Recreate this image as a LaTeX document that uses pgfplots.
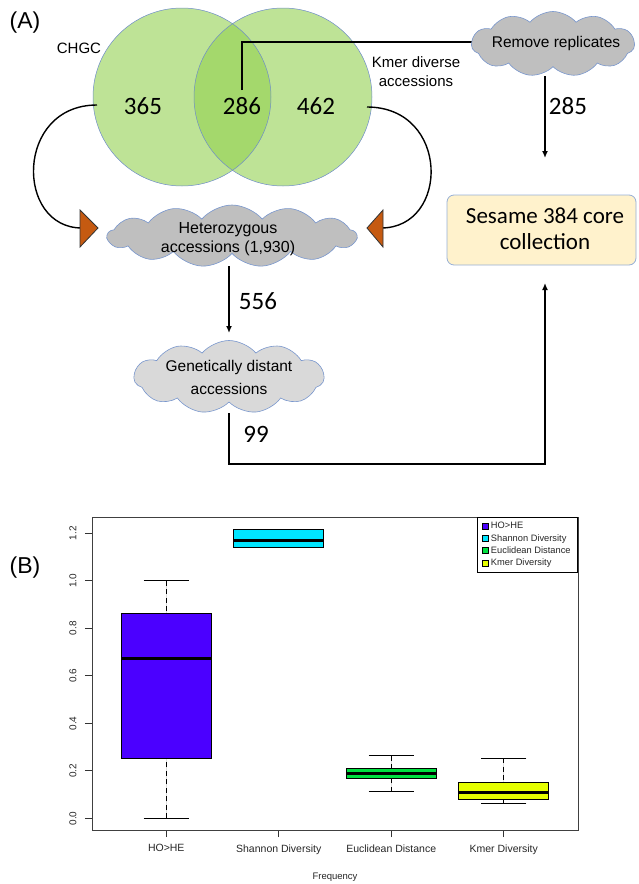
\documentclass[border=0pt]{standalone}
\usepackage{pgfplots}
\pgfplotsset{compat=1.18}
\usepgfplotslibrary{statistics}
\usetikzlibrary{shapes.symbols,arrows.meta}
\usepackage{fontspec}
\setmainfont{Liberation Sans}
\newfontfamily\calib{Carlito}
\definecolor{venn}{RGB}{146,208,80}
\definecolor{vennline}{RGB}{110,140,200}
\definecolor{cloudA}{RGB}{191,191,191}
\definecolor{cloudB}{RGB}{217,217,217}
\definecolor{cloudline}{RGB}{120,150,205}
\definecolor{sesame}{RGB}{255,242,204}
\definecolor{sesameline}{RGB}{150,175,215}
\definecolor{tri}{RGB}{197,90,17}
\definecolor{hohe}{RGB}{75,0,255}
\definecolor{shannon}{RGB}{0,229,255}
\definecolor{euclid}{RGB}{0,224,64}
\definecolor{kmer}{RGB}{229,255,0}
\newcommand\fs[1]{\fontsize{#1}{#1}\selectfont}
\newcommand\fsb[2]{\fontsize{#1}{#2}\selectfont}
\begin{document}
\begin{tikzpicture}
\path[use as bounding box] (0pt,0pt) rectangle (639pt,-884pt);
\begin{scope}[x=1pt,y=-1pt]
 % panel labels
 \node at (25,23) {\fs{23}(A)};
 \node at (25,568) {\fs{23}(B)};
 % venn
 \fill[venn, fill opacity=0.6] (182,97) circle[radius=89pt];
 \fill[venn, fill opacity=0.6] (283,97) circle[radius=89pt];
 \draw[vennline, line width=0.5pt] (182,97) circle[radius=89pt];
 \draw[vennline, line width=0.5pt] (283,97) circle[radius=89pt];
 \node at (79,48) {\fs{15}CHGC};
 \node[align=center, font=\fsb{15}{19}] at (416,72) {Kmer diverse\\accessions};
 \node at (143,106) {\calib\fs{25}365};
 \node at (242,106) {\calib\fs{25}286};
 \node at (316,106) {\calib\fs{25}462};
 % line from 286 to Remove replicates
 \draw[line width=1.4pt] (242,90) -- (242,42) -- (475,42);
 % Remove replicates cloud
 \node[cloud, cloud puffs=11, cloud puff arc=100, cloud ignores aspect, minimum width=163pt, minimum height=65pt, draw=cloudline, fill=cloudA, line width=0.6pt] at (553,44) {};
 \node at (556,43) {\fs{15.5}Remove replicates};
 % 285 arrow
 \draw[line width=1.4pt, -{Latex[length=7pt,width=6pt]}] (545,76) -- (545,158);
 \node at (568,106) {\calib\fs{25}285};
 % Sesame box
 \draw[sesameline, fill=sesame, line width=0.8pt, rounded corners=7pt] (447,195) rectangle (636,265);
 \node[align=center, font=\calib\fsb{23}{26}] at (545,229) {Sesame 384 core\\collection};
 % curved arrows
 \draw[line width=1.4pt] (97,105) .. controls (15,105) and (15,228) .. (82,228);
 \draw[line width=1.4pt] (367,107) .. controls (450,107) and (450,228) .. (381,228);
 \draw[black!80, fill=tri, line width=0.8pt] (80,210) -- (80,247) -- (98,228) -- cycle;
 \draw[black!80, fill=tri, line width=0.8pt] (383,210) -- (383,247) -- (367,228) -- cycle;
 % Heterozygous cloud
 \node[cloud, cloud puffs=13, cloud puff arc=100, cloud ignores aspect, minimum width=249pt, minimum height=62pt, draw=cloudline, fill=cloudA, line width=0.6pt] at (232,236) {};
 \node[align=center, font=\fsb{16}{18.5}] at (228,239) {Heterozygous\\accessions (1,930)};
 % 556 arrow
 \draw[line width=1.4pt, -{Latex[length=7pt,width=6pt]}] (229,266) -- (229,333);
 \node at (258,301) {\calib\fs{25}556};
 % Genetically distant cloud
 \node[cloud, cloud puffs=11, cloud puff arc=100, cloud ignores aspect, minimum width=190pt, minimum height=73pt, draw=cloudline, fill=cloudB, line width=0.6pt] at (229,377) {};
 \node[align=center, font=\fsb{15.5}{23}] at (229,377) {Genetically distant\\accessions};
 % 99 route
 \draw[line width=1.4pt, -{Latex[length=7pt,width=6pt]}] (229,413) -- (229,464) -- (545,464) -- (545,283);
 \node at (256,434) {\calib\fs{25}99};
\end{scope}
\begin{axis}[
  at={(92pt,-830pt)}, anchor=south west,
  scale only axis, width=486pt, height=313pt,
  xmin=0.34, xmax=4.66, ymin=-0.0488, ymax=1.2688,
  xtick={1,2,3,4},
  xticklabels={HO>HE, Shannon Diversity, Euclidean Distance, Kmer Diversity},
  ytick={0,0.2,0.4,0.6,0.8,1.0,1.2},
  /pgf/number format/assume math mode=true,
  yticklabel style={/pgf/number format/fixed, /pgf/number format/precision=1, /pgf/number format/fixed zerofill, rotate=90, anchor=south, font=\fs{10}, text=black!85},
  yticklabel shift=5pt,
  xticklabel style={font=\fs{10.5}, text=black!85},
  xticklabel shift=4pt,
  tick align=outside, tick pos=left, major tick length=7pt,
  tick style={black!80, line width=0.9pt},
  axis line style={black!75, line width=0.9pt},
  xlabel={Frequency},
  xlabel style={font=\fs{9.5}, text=black!85, at={(axis description cs:0.5,0)}, anchor=center, yshift=-47pt},
  boxplot/draw direction=y,
  boxplot/box extend=0.8,
  boxplot/draw/lower whisker/.code={
    \draw[black, dash pattern=on 5pt off 3.5pt, line width=0.9pt]
      (boxplot box cs:\pgfplotsboxplotvalue{lower whisker},0.5) -- (boxplot box cs:\pgfplotsboxplotvalue{lower quartile},0.5);
    \draw[black, solid, line width=0.9pt]
      (boxplot box cs:\pgfplotsboxplotvalue{lower whisker},0.25) -- (boxplot box cs:\pgfplotsboxplotvalue{lower whisker},0.75);
  },
  boxplot/draw/upper whisker/.code={
    \draw[black, dash pattern=on 5pt off 3.5pt, line width=0.9pt]
      (boxplot box cs:\pgfplotsboxplotvalue{upper whisker},0.5) -- (boxplot box cs:\pgfplotsboxplotvalue{upper quartile},0.5);
    \draw[black, solid, line width=0.9pt]
      (boxplot box cs:\pgfplotsboxplotvalue{upper whisker},0.25) -- (boxplot box cs:\pgfplotsboxplotvalue{upper whisker},0.75);
  },
  boxplot/every median/.style={black, line width=3pt},
  boxplot/every box/.style={draw=black, line width=0.9pt},
  legend style={at={(1,1)}, anchor=north east, draw=black, line width=0.8pt, font=\fsb{9.3}{10.5}, inner xsep=5pt, inner ysep=3pt, row sep=0pt, cells={anchor=west}, text=black!85},
]
\addplot[forget plot, fill=hohe, boxplot prepared={lower whisker=0.0, lower quartile=0.253, median=0.673, upper quartile=0.861, upper whisker=1.0, draw position=1}] coordinates {};
\addplot[forget plot, fill=shannon, boxplot prepared={lower whisker=1.141, lower quartile=1.141, median=1.172, upper quartile=1.218, upper whisker=1.218, draw position=2}] coordinates {};
\addplot[forget plot, fill=euclid, boxplot prepared={lower whisker=0.112, lower quartile=0.170, median=0.191, upper quartile=0.209, upper whisker=0.264, draw position=3}] coordinates {};
\addplot[forget plot, fill=kmer, boxplot prepared={lower whisker=0.063, lower quartile=0.080, median=0.108, upper quartile=0.152, upper whisker=0.254, draw position=4}] coordinates {};
\addlegendimage{legend image code/.code={\draw[fill=hohe,draw=black,line width=0.6pt] (0pt,-3pt) rectangle (6pt,3pt);}}
\addlegendentry{HO>HE}
\addlegendimage{legend image code/.code={\draw[fill=shannon,draw=black,line width=0.6pt] (0pt,-3pt) rectangle (6pt,3pt);}}
\addlegendentry{Shannon Diversity}
\addlegendimage{legend image code/.code={\draw[fill=euclid,draw=black,line width=0.6pt] (0pt,-3pt) rectangle (6pt,3pt);}}
\addlegendentry{Euclidean Distance}
\addlegendimage{legend image code/.code={\draw[fill=kmer,draw=black,line width=0.6pt] (0pt,-3pt) rectangle (6pt,3pt);}}
\addlegendentry{Kmer Diversity}
\end{axis}
\end{tikzpicture}
\end{document}
